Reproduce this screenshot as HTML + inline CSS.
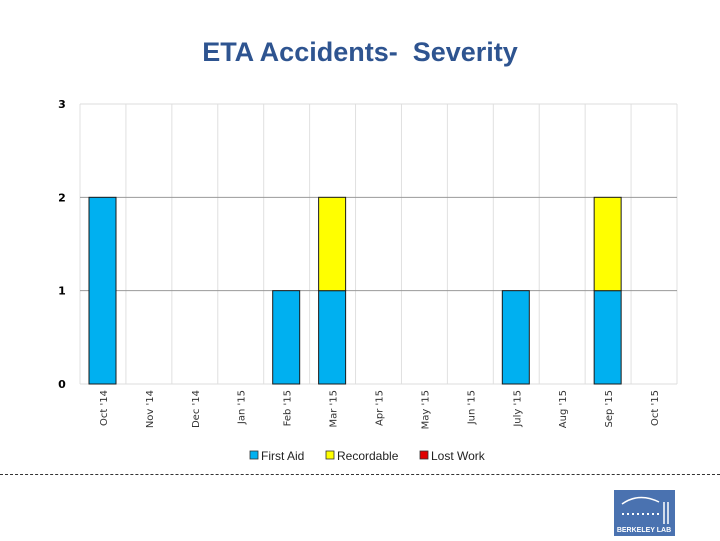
<!DOCTYPE html>
<html><head><meta charset="utf-8"><style>
body{margin:0;width:720px;height:540px;background:#fff;font-family:"Liberation Sans",sans-serif;overflow:hidden;position:relative}
#title{position:absolute;left:0;top:37px;width:720px;text-align:center;font-size:27px;font-weight:bold;color:#2e5490}
#dots{position:absolute;left:0;top:474px;width:720px;border-top:1px dashed #333}
#logo{position:absolute;left:614px;top:490px;width:61px;height:46px;background:#4a72b0}
</style></head><body>
<div id="title">ETA Accidents-&nbsp; Severity</div>
<svg id="chart" width="720" height="470" style="position:absolute;left:0;top:0"></svg>
<div id="dots"></div>
<div id="logo">
<svg width="61" height="46"><path d="M8 14 Q25 2 45 12" stroke="#fff" fill="none" stroke-width="1.5"/><line x1="8" y1="24" x2="46" y2="24" stroke="#fff" stroke-width="2" stroke-dasharray="2,3"/><line x1="50" y1="12" x2="50" y2="34" stroke="#fff" stroke-width="1.5"/><line x1="54" y1="12" x2="54" y2="34" stroke="#fff" stroke-width="1.5"/><text x="30" y="42" font-size="7" fill="#fff" text-anchor="middle" font-weight="bold" font-family="Liberation Sans">BERKELEY LAB</text></svg></div>
<script>
const categories=["Oct '14","Nov '14","Dec '14","Jan '15","Feb '15","Mar '15","Apr '15","May '15","Jun '15","July '15","Aug '15","Sep '15","Oct '15"];
const firstAid=[2,0,0,0,1,1,0,0,0,1,0,1,0];
const recordable=[0,0,0,0,0,1,0,0,0,0,0,1,0];
const lostWork=[0,0,0,0,0,0,0,0,0,0,0,0,0];
const yTicks=[0,1,2,3];
const svg=document.getElementById('chart'),NS='http://www.w3.org/2000/svg';
const x0=80,x1=677,y0=384,y3=104,yMax=3;
const step=(x1-x0)/categories.length;
const y=v=>y0-(y0-y3)*v/yMax;
function mk(t,a,parent){const e=document.createElementNS(NS,t);for(const k in a)e.setAttribute(k,a[k]);(parent||svg).appendChild(e);return e;}
for(let i=0;i<=categories.length;i++){const l=mk('line',{x1:x0+i*step,x2:x0+i*step,y1:y3,y2:y0,stroke:'#e0e0e0','stroke-width':1});

}
yTicks.forEach(t=>{const l=mk('line',{x1:x0,x2:x1,y1:y(t),y2:y(t),stroke:t==0||t==3?'#ddd':'#999','stroke-width':1});


const tx=mk('text',{x:62,y:y(t)+4,'font-size':11,'font-weight':'bold','text-anchor':'middle','font-family':'DejaVu Sans'});tx.textContent=t;

});
const series=[[firstAid,'#00b0f0','first-aid'],[recordable,'#ffff00','recordable'],[lostWork,'#e00000','lost-work']];
categories.forEach((c,i)=>{let base=0;const bx=x0+i*step+9,bw=27;
series.forEach(([arr,col,nm])=>{const v=arr[i];if(v>0){const r=mk('rect',{x:bx,y:y(base+v),width:bw,height:y(base)-y(base+v),fill:col,stroke:'#1a1a1a','stroke-width':1});

}base+=v;});
const cx=x0+i*step+step/2;
const t=mk('text',{x:0,y:0,'font-size':10,'text-anchor':'end','font-family':'DejaVu Sans',fill:'#333',transform:`translate(${cx+4},${y0+6}) rotate(-90)`});t.textContent=c;

});
const leg=[['First Aid','#00b0f0',250],['Recordable','#ffff00',326],['Lost Work','#e00000',420]];
leg.forEach(([n,c,lx])=>{const g=mk('g',{});


mk('rect',{x:lx,y:451,width:8,height:8,fill:c,stroke:'#333','stroke-width':0.8},g);
const t=mk('text',{x:lx+11,y:460,'font-size':12,'font-family':'Liberation Sans',fill:'#222'},g);t.textContent=n;});
</script>
</body></html>
